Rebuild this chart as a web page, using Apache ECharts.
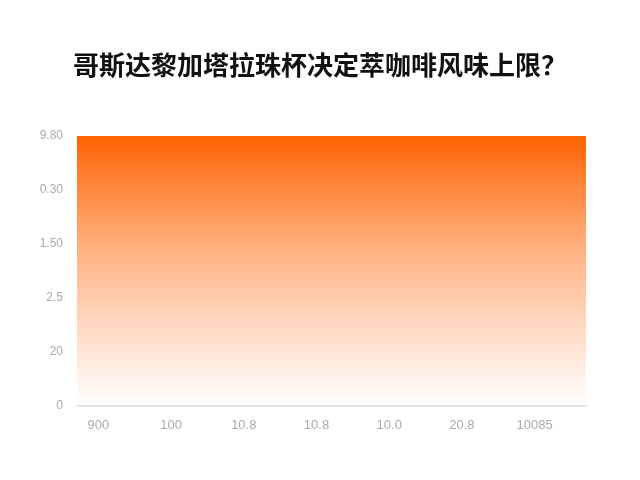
<!DOCTYPE html>
<html>
<head>
<meta charset="utf-8">
<script src="https://cdn.jsdelivr.net/npm/echarts@6/dist/echarts.min.js"></script>
<style>
  html, body { margin: 0; padding: 0; background: #fff; }
  #chart { width: 640px; height: 480px; }
</style>
</head>
<body>
<div id="chart"></div>
<script>
const titleText = '哥斯达黎加塔拉珠杯决定萃咖啡风味上限？'
const categories = ['900', '100', '10.8', '10.8', '10.0', '20.8', '10085']
const values = [5, 5, 5, 5, 5, 5, 5]
const yTickLabels = ['0', '20', '2.5', '1.50', '0.30', '9.80']

const chart = echarts.init(document.getElementById('chart'))
chart.setOption({
    animation: false,
    title: {
        text: titleText,
        left: 'center',
        top: 47,
        textStyle: { fontFamily: 'Noto Sans CJK SC', fontSize: 26, fontWeight: 'bold', color: '#111' }
    },
    grid: [
        { left: 77, right: 54, top: 136, bottom: 74 },
        // label row sits a little left of the plot in the original
        { left: 62, right: 69, top: 136, bottom: 74 }
    ],
    xAxis: [
        {
            type: 'category',
            gridIndex: 0,
            data: categories,
            boundaryGap: false,
            axisLine: { lineStyle: { color: '#e4e4e4', width: 2 } },
            axisTick: { show: false },
            axisLabel: { show: false }
        },
        {
            type: 'category',
            gridIndex: 1,
            data: categories,
            boundaryGap: true,
            axisLine: { show: false },
            axisTick: { show: false },
            axisLabel: { color: '#aaa', fontSize: 13, margin: 13, fontFamily: 'Liberation Sans' }
        }
    ],
    yAxis: [
        {
            type: 'value',
            gridIndex: 0,
            min: 0,
            max: 5,
            interval: 1,
            axisLine: { show: false },
            axisTick: { show: false },
            splitLine: { show: false },
            axisLabel: {
                color: '#aaa',
                fontSize: 12,
                margin: 14,
                fontFamily: 'Liberation Sans',
                formatter: (v) => yTickLabels[Math.round(v)]
            }
        },
        { type: 'value', gridIndex: 1, min: 0, max: 5, show: false }
    ],
    series: [{
        type: 'line',
        xAxisIndex: 0,
        yAxisIndex: 0,
        data: values,
        symbol: 'none',
        lineStyle: { width: 0 },
        areaStyle: {
            opacity: 1,
            color: new echarts.graphic.LinearGradient(0, 0, 0, 1, [
                { offset: 0, color: '#ff6200' },
                { offset: 0.45, color: 'rgba(255,110,20,0.5)' },
                { offset: 1, color: 'rgba(255,120,40,0.0)' }
            ])
        }
    }]
})
</script>
</body>
</html>
